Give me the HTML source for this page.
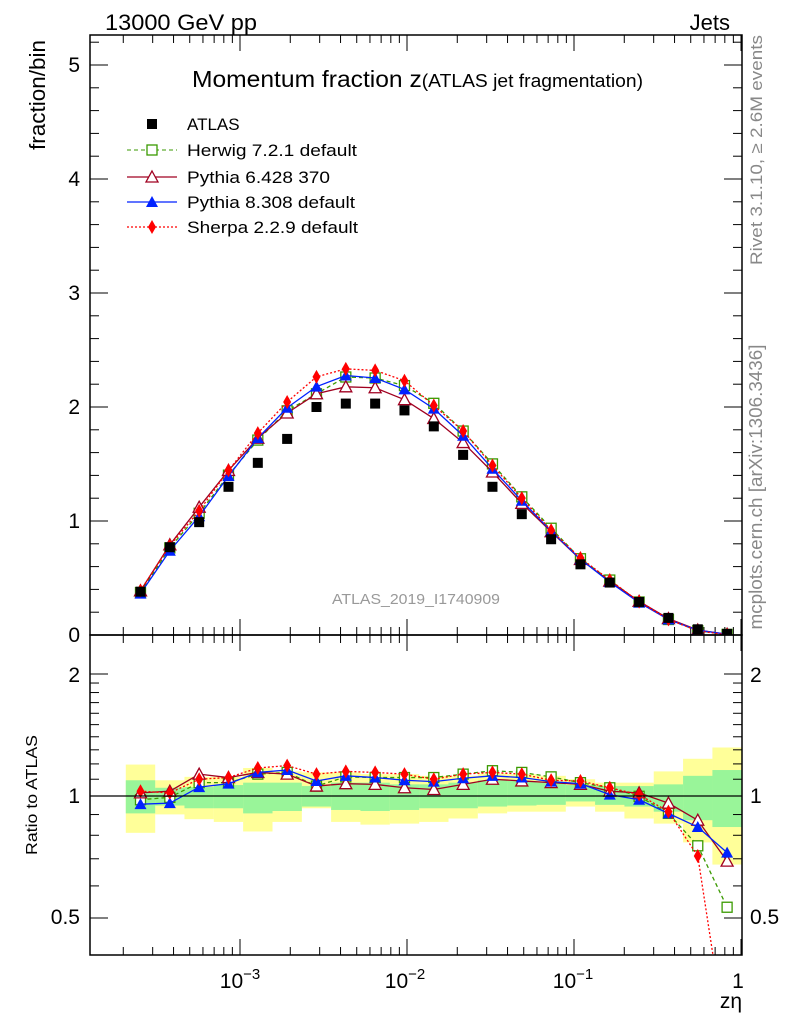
<!DOCTYPE html>
<html><head><meta charset="utf-8"><style>
body{margin:0;background:#fff}
svg{display:block;font-family:"Liberation Sans",sans-serif}
</style></head><body>
<svg id="s" width="786" height="1024" xmlns="http://www.w3.org/2000/svg">
<rect width="786" height="1024" fill="#fff"/>
<g id="bands"></g>
<g id="ticks" stroke="#000" stroke-width="1"></g>
<g id="data"></g>
<rect x="90" y="35" width="652" height="600" fill="none" stroke="#000" stroke-width="1.5"/>
<rect x="90" y="635" width="652" height="320" fill="none" stroke="#000" stroke-width="1.5"/>
<line x1="90" y1="796" x2="742" y2="796" stroke="#000" stroke-width="1.2"/>
<text x="105" y="30" font-size="22" textLength="152" lengthAdjust="spacingAndGlyphs">13000 GeV pp</text>
<text x="730" y="30" font-size="22" text-anchor="end">Jets</text>
<text x="192" y="87" font-size="23" textLength="451" lengthAdjust="spacingAndGlyphs">Momentum fraction z<tspan font-size="18">(ATLAS jet fragmentation)</tspan></text>
<text transform="translate(45,95) rotate(-90)" font-size="22" text-anchor="middle" textLength="110" lengthAdjust="spacingAndGlyphs">fraction/bin</text>
<text transform="translate(37,795) rotate(-90)" font-size="16" text-anchor="middle" textLength="120" lengthAdjust="spacingAndGlyphs">Ratio to ATLAS</text>
<text transform="translate(762,150) rotate(-90)" font-size="17" fill="#888" text-anchor="middle" textLength="230" lengthAdjust="spacingAndGlyphs">Rivet 3.1.10, ≥ 2.6M events</text>
<text transform="translate(762,487) rotate(-90)" font-size="18" fill="#888" text-anchor="middle" textLength="285" lengthAdjust="spacingAndGlyphs">mcplots.cern.ch [arXiv:1306.3436]</text>
<text x="416" y="604" font-size="15" fill="#999" text-anchor="middle" textLength="168" lengthAdjust="spacingAndGlyphs">ATLAS_2019_I1740909</text>
<g font-size="21" text-anchor="end">
<text x="80" y="72">5</text><text x="80" y="186">4</text><text x="80" y="300">3</text>
<text x="80" y="414">2</text><text x="80" y="528">1</text><text x="80" y="642">0</text>
<text x="80" y="682">2</text><text x="80" y="803">1</text><text x="80" y="924">0.5</text>
</g>
<g font-size="21" text-anchor="start">
<text x="750" y="682">2</text><text x="750" y="803">1</text><text x="750" y="924">0.5</text>
</g>
<g font-size="21" text-anchor="middle">
<text x="240" y="988">10<tspan font-size="15" dy="-9">−3</tspan></text>
<text x="405" y="988">10<tspan font-size="15" dy="-9">−2</tspan></text>
<text x="573" y="988">10<tspan font-size="15" dy="-9">−1</tspan></text>
<text x="738" y="988">1</text>
</g>
<text x="742" y="1008" font-size="21" text-anchor="end">zη</text>
<g id="leg" font-size="17">
<rect x="147" y="119" width="10" height="10" fill="#000"/>
<text x="187" y="130">ATLAS</text>
<line x1="127" y1="150" x2="177" y2="150" stroke="#3a9a00" stroke-dasharray="4,3"/>
<rect x="147" y="145" width="10" height="10" fill="#fff" stroke="#3a9a00" stroke-width="1.3"/>
<text x="187" y="156" textLength="170" lengthAdjust="spacingAndGlyphs">Herwig 7.2.1 default</text>
<line x1="127" y1="177" x2="177" y2="177" stroke="#a00020" stroke-width="1.3"/>
<polygon points="152,171 158,182 146,182" fill="#fff" stroke="#a00020" stroke-width="1.3"/>
<text x="187" y="183" textLength="143" lengthAdjust="spacingAndGlyphs">Pythia 6.428 370</text>
<line x1="127" y1="202" x2="177" y2="202" stroke="#0022ff" stroke-width="1.3"/>
<polygon points="152,196 158,207 146,207" fill="#0022ff"/>
<text x="187" y="208" textLength="168" lengthAdjust="spacingAndGlyphs">Pythia 8.308 default</text>
<line x1="127" y1="227" x2="177" y2="227" stroke="#ff0000" stroke-dasharray="2,2" stroke-width="1.3"/>
<polygon points="152,220 156,227 152,234 148,227" fill="#ff0000"/>
<text x="187" y="233" textLength="171" lengthAdjust="spacingAndGlyphs">Sherpa 2.2.9 default</text>
</g>
</svg>
<script>
const NS="http://www.w3.org/2000/svg";
function el(p,t,a){const e=document.createElementNS(NS,t);for(const k in a)e.setAttribute(k,a[k]);p.appendChild(e);return e;}
const ticks=document.getElementById('ticks'),data=document.getElementById('data'),bands=document.getElementById('bands');
const X=z=>741+167*Math.log10(z);
for(let d=-4;d<=0;d++)for(let m=1;m<10;m++){const z=m*Math.pow(10,d);const x=X(z);if(x<91||x>742)continue;const L=m==1?16:8;
 [[35,1],[635,-1],[635,1],[955,-1]].forEach(([y,s])=>el(ticks,'line',{x1:x,y1:y,x2:x,y2:y+s*L}));}
for(let i=0;i<=26;i++){const v=i*0.2;const y=635-114*v;if(y<36)continue;const L=(i%5==0)?18:9;
 el(ticks,'line',{x1:90,y1:y,x2:90+L,y2:y});el(ticks,'line',{x1:742,y1:y,x2:742-L,y2:y});}
const RY=r=>796-122*Math.log2(r);
[0.5,0.6,0.7,0.8,0.9,1,1.1,1.2,1.3,1.4,1.5,1.6,1.7,1.8,1.9,2].forEach(r=>{const y=RY(r);const L=(r==0.5||r==1||r==2)?18:9;
 el(ticks,'line',{x1:90,y1:y,x2:90+L,y2:y});el(ticks,'line',{x1:742,y1:y,x2:742-L,y2:y});});
const xs=[],N=21;for(let i=0;i<N;i++)xs.push(140.5+29.33*i);
const atlas=[0.38,0.77,0.99,1.30,1.51,1.72,2.00,2.03,2.03,1.97,1.83,1.58,1.30,1.06,0.84,0.62,0.46,0.29,0.15,0.05,0.01];
const zr=v=>740+v/2.93;
const sh=[150,155,115,110,82,75,100,92,95,100,115,100,95,100,118,120,140,160,210,340,900].map(zr);
const p8=[188,185,138,128,95,88,120,105,110,118,122,112,105,110,122,128,160,175,215,255,330].map(zr);
const p6=[155,150,100,110,95,100,135,128,130,140,145,130,115,120,125,130,150,155,185,235,355].map(zr);
const hw=[175,168,125,125,100,95,135,108,110,110,110,100,90,95,108,125,140,165,215,310,490].map(zr);
const yT=[72,118,108,108,82,92,95,95,100,100,105,105,98,100,105,115,125,125,92,55,22],yB=[272,218,232,240,268,240,200,240,248,245,240,230,215,210,210,195,210,230,245,300,365];
const gT=[118,140,138,132,125,125,135,125,125,130,130,125,118,120,125,132,135,135,130,105,88],gB=[215,192,200,200,215,208,195,205,208,205,200,200,195,192,190,180,190,195,210,235,255];
for(let i=0;i<N;i++){const x0=xs[i]-14.7;
 el(bands,'rect',{x:x0,y:zr(yT[i]),width:29.4,height:zr(yB[i])-zr(yT[i]),fill:'#ffff99'});}
for(let i=0;i<N;i++){const x0=xs[i]-14.7;
 el(bands,'rect',{x:x0,y:zr(gT[i]),width:29.4,height:zr(gB[i])-zr(gT[i]),fill:'#99f599'});}
const clipM=el(data,'clipPath',{id:'cm'});el(clipM,'rect',{x:90,y:35,width:652,height:600});
const clipR=el(data,'clipPath',{id:'cr'});el(clipR,'rect',{x:90,y:635,width:652,height:320});
const gm=el(data,'g',{'clip-path':'url(#cm)'}),gr=el(data,'g',{'clip-path':'url(#cr)'});
function mk(g,type,x,y,c){
 if(type=='sq')el(g,'rect',{x:x-5,y:y-5,width:10,height:10,fill:'#fff',stroke:c,'stroke-width':1.3});
 else if(type=='to')el(g,'polygon',{points:`${x},${y-6} ${x+6},${y+5} ${x-6},${y+5}`,fill:'#fff',stroke:c,'stroke-width':1.3});
 else if(type=='tf')el(g,'polygon',{points:`${x},${y-6} ${x+6},${y+5} ${x-6},${y+5}`,fill:c});
 else if(type=='di')el(g,'polygon',{points:`${x},${y-7} ${x+4},${y} ${x},${y+7} ${x-4},${y}`,fill:c});}
const series=[[hw,'#3a9a00','4,3','sq'],[p6,'#a00020','','to'],[p8,'#0022ff','','tf'],[sh,'#ff0000','2,2','di']];
series.forEach(([ry,c,da,t])=>{
 const rp=ry.map((y,i)=>[xs[i],y]);
 const mp=ry.map((y,i)=>[xs[i],635-114*atlas[i]*Math.pow(2,(796-y)/122)]);
 [[gr,rp],[gm,mp]].forEach(([g,pts])=>{
  el(g,'polyline',{points:pts.map(p=>p.join(',')).join(' '),fill:'none',stroke:c,'stroke-width':1.3,'stroke-dasharray':da});
  pts.forEach(p=>mk(g,t,p[0],p[1],c));});});
atlas.forEach((v,i)=>el(gm,'rect',{x:xs[i]-5,y:635-114*v-5,width:10,height:10,fill:'#000'}));
</script>
</body></html>
